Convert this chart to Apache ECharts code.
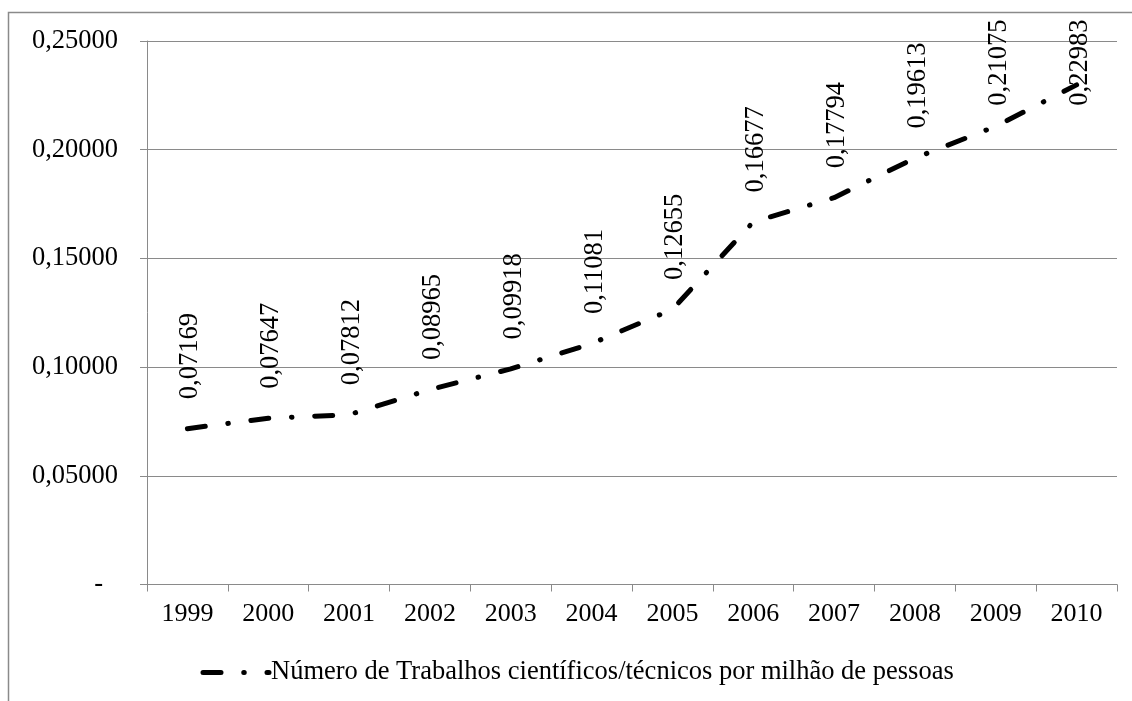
<!DOCTYPE html>
<html>
<head>
<meta charset="utf-8">
<script src="https://cdn.jsdelivr.net/npm/echarts@6/dist/echarts.min.js"></script>
<style>
  html, body { margin: 0; padding: 0; background: #fff; }
  #chart { width: 1132px; height: 701px; }
</style>
</head>
<body>
<div id="chart"></div>
<script>
// Scientific/technical papers per million people, 1999–2010
const years = ['1999', '2000', '2001', '2002', '2003', '2004', '2005', '2006', '2007', '2008', '2009', '2010'];
const papers = [0.07169, 0.07647, 0.07812, 0.08965, 0.09918, 0.11081, 0.12655, 0.16677, 0.17794, 0.19613, 0.21075, 0.22983];
const seriesName = 'Número de Trabalhos científicos/técnicos por milhão de pessoas';

const FONT = '"Liberation Serif", "Times New Roman", serif';
const GRAY = '#8a8a8a';
const fmt = v => v.toFixed(5).replace('.', ',');

const chart = echarts.init(document.getElementById('chart'), null, { renderer: 'canvas' });

const baseDistance = 29;   // gap between point and the bottom of its label
const labelTopLimit = 20;  // labels never rise above this line
const dashPattern = [18, 22.75, 0.5, 22.75];

function buildOption(items) {
  return {
    animation: false,
    backgroundColor: '#fff',
    textStyle: { fontFamily: FONT, color: '#000' },
    graphic: [{
      type: 'rect',
      shape: { x: 8.5, y: 12.5, width: 1300, height: 900 },
      style: { fill: 'none', stroke: GRAY, lineWidth: 1.5 },
      silent: true
    }],
    grid: { left: 147, right: 15, top: 41, bottom: 116.5, containLabel: false },
    xAxis: {
      type: 'category',
      data: years,
      boundaryGap: true,
      axisLine: { lineStyle: { color: GRAY, width: 1 } },
      axisTick: { show: true, length: 7, inside: false, lineStyle: { color: GRAY } },
      axisLabel: { color: '#000', fontFamily: FONT, fontSize: 26, margin: 17 },
      splitLine: { show: false }
    },
    yAxis: {
      type: 'value',
      min: 0, max: 0.25, interval: 0.05,
      axisLine: { show: true, lineStyle: { color: GRAY, width: 1 } },
      axisTick: { show: true, length: 7, lineStyle: { color: GRAY } },
      splitLine: { show: true, lineStyle: { color: GRAY, width: 1 } },
      axisLabel: {
        color: '#000', fontFamily: FONT, fontSize: 26.5, margin: 29,
        formatter: v => v === 0 ? '{z|-}' : fmt(v),
        rich: { z: { fontFamily: FONT, fontSize: 26.5, color: '#000', padding: [0, 15, 0, 0] } }
      }
    },
    legend: {
      show: true,
      left: 200.5,
      top: 659,
      padding: 0,
      itemWidth: 66,
      itemHeight: 26,
      itemGap: 10,
      itemStyle: { opacity: 0 },
      lineStyle: { color: '#000', width: 5, cap: 'round', type: dashPattern },
      textStyle: { fontFamily: FONT, fontSize: 26.5, color: '#000', padding: [0, 0, 0, -3] },
      data: [seriesName]
    },
    series: [{
      name: seriesName,
      type: 'line',
      data: items,
      showSymbol: true,
      symbol: 'circle',
      symbolSize: 1,
      itemStyle: { color: 'rgba(0,0,0,0)' },
      lineStyle: {
        color: '#000', width: 5, cap: 'round', join: 'round',
        type: dashPattern
      },
      label: {
        show: true,
        position: 'top',
        distance: baseDistance,
        rotate: 90,
        align: 'left',
        verticalAlign: 'middle',
        offset: [0, 3],
        fontFamily: FONT,
        fontSize: 26.5,
        color: '#000',
        formatter: p => fmt(p.value)
      }
    }]
  };
}

chart.setOption(buildOption(papers.slice()));

// Keep every rotated label inside the plot frame: push labels down when
// their top would cross the limit line.
const ctx = document.createElement('canvas').getContext('2d');
ctx.font = '26.5px ' + FONT;
const items = papers.map((v, i) => {
  const len = ctx.measureText(fmt(v)).width;
  const py = chart.convertToPixel({ seriesIndex: 0 }, [i, v])[1];
  const maxDist = py - (labelTopLimit + len);
  const d = Math.min(baseDistance, maxDist);
  return d < baseDistance ? { value: v, label: { distance: d } } : v;
});
chart.setOption(buildOption(items));
</script>
</body>
</html>
